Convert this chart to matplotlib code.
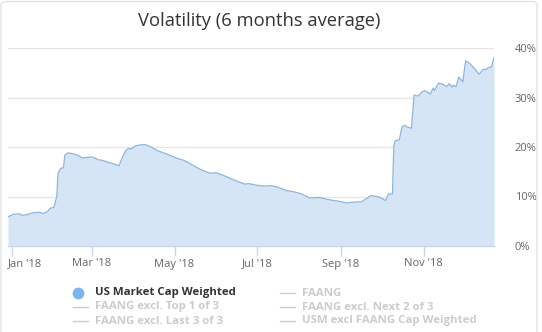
import matplotlib
matplotlib.use("Agg")
import matplotlib.pyplot as plt
import matplotlib.transforms as mtransforms
from matplotlib.patches import FancyBboxPatch
from matplotlib.lines import Line2D
import pandas as pd

title = "Volatility (6 months average)"
dates = ["2017-12-29","2018-01-02","2018-01-06","2018-01-09","2018-01-13","2018-01-16","2018-01-21","2018-01-24",
         "2018-01-27","2018-01-29","2018-02-01","2018-02-03","2018-02-04","2018-02-06","2018-02-08","2018-02-09",
         "2018-02-11","2018-02-14","2018-02-18","2018-02-22","2018-02-26","2018-03-01","2018-03-06","2018-03-09",
         "2018-03-13","2018-03-17","2018-03-21","2018-03-23","2018-03-26","2018-03-28","2018-03-30","2018-04-02",
         "2018-04-05","2018-04-09","2018-04-13","2018-04-19","2018-04-26","2018-05-02","2018-05-08","2018-05-14",
         "2018-05-20","2018-05-27","2018-06-01","2018-06-05","2018-06-10","2018-06-17","2018-06-22","2018-06-25",
         "2018-06-30","2018-07-06","2018-07-11","2018-07-16","2018-07-23","2018-07-29","2018-08-03","2018-08-09",
         "2018-08-16","2018-08-24","2018-08-31","2018-09-05","2018-09-12","2018-09-16","2018-09-20","2018-09-23",
         "2018-09-29","2018-10-04","2018-10-06","2018-10-09","2018-10-10","2018-10-11","2018-10-14","2018-10-16",
         "2018-10-18","2018-10-20","2018-10-23","2018-10-25","2018-10-28","2018-10-31","2018-11-02","2018-11-06",
         "2018-11-08","2018-11-09","2018-11-12","2018-11-15","2018-11-18","2018-11-20","2018-11-22","2018-11-23",
         "2018-11-25","2018-11-27","2018-11-30","2018-12-02","2018-12-05","2018-12-09","2018-12-12","2018-12-15",
         "2018-12-17","2018-12-19","2018-12-21","2018-12-23"]
volatility = [5.9,6.4,6.5,6.2,6.4,6.7,6.8,6.6,
              6.9,7.6,7.8,10.0,14.8,15.7,15.8,18.4,
              18.8,18.7,18.4,17.8,17.9,18.0,17.4,17.3,
              16.9,16.6,16.2,17.6,19.3,19.7,19.6,20.2,
              20.4,20.5,20.1,19.2,18.5,17.8,17.3,16.4,
              15.5,14.7,14.8,14.4,13.8,13.0,12.5,12.6,
              12.3,12.1,12.2,11.9,11.2,10.9,10.5,9.7,
              9.8,9.3,9.0,8.7,8.9,8.9,9.6,10.2,
              9.9,9.2,10.5,10.5,20.2,21.3,21.4,24.0,
              24.4,24.0,23.8,30.5,30.3,31.2,31.4,30.7,
              31.9,31.4,32.9,32.7,32.2,32.8,32.1,32.5,
              32.2,34.1,33.2,37.4,36.9,35.7,34.7,35.7,
              35.6,36.1,36.1,38.1]
tick_dates = ["2018-01-01","2018-03-01","2018-05-01","2018-07-01","2018-09-01","2018-11-01"]
tick_labels = ["Jan '18","Mar '18","May '18","Jul '18","Sep '18","Nov '18"]
y_ticks = [0, 10, 20, 30, 40]
y_labels = ["0%", "10%", "20%", "30%", "40%"]
legend_active = "US Market Cap Weighted"
legend_inactive = ["FAANG", "FAANG excl. Top 1 of 3", "FAANG excl. Next 2 of 3",
                   "FAANG excl. Last 3 of 3", "USM excl FAANG Cap Weighted"]

plt.rcParams['font.family'] = ['Open Sans', 'DejaVu Sans']

W, H = 542, 332
fig = plt.figure(figsize=(W/100, H/100), dpi=100)
fig.patch.set_facecolor("white")

# outer border
fig.patches.append(FancyBboxPatch((1/W, -0.05), 536/W, 1.05 - 1.5/H,
                                  boxstyle="round,pad=0,rounding_size=0.01",
                                  transform=fig.transFigure, facecolor="none",
                                  edgecolor="#e3e3e3", linewidth=1.0, zorder=0))

px = lambda x: x / W
py = lambda y: 1 - y / H

ax = fig.add_axes([px(8), py(246), (494-8)/W, (246-48)/H])
x = pd.to_datetime(dates)
ax.fill_between(x, volatility, 0, color="#d5e5f6", linewidth=0, zorder=2)
ax.plot(x, volatility, color="#8db4dc", linewidth=0.9, zorder=3)
ax.set_xlim(x[0], x[-1])
ax.set_ylim(0, 40)

for s in ["top", "left", "right"]:
    ax.spines[s].set_visible(False)
ax.spines["bottom"].set_color("#ccd6eb")
ax.spines["bottom"].set_linewidth(1)
ax.spines["bottom"].set_zorder(4)

ax.set_yticks(y_ticks)
ax.set_yticklabels(y_labels)
ax.yaxis.tick_right()
ax.tick_params(axis="y", length=0, pad=15, labelsize=8, labelcolor="#666666")
for lbl in ax.get_yticklabels():
    lbl.set_horizontalalignment("left")
ax.grid(axis="y", color="#e6e6e6", linewidth=1, zorder=1)
ax.set_axisbelow(True)

ax.set_xticks(pd.to_datetime(tick_dates))
ax.set_xticklabels(tick_labels)
ax.tick_params(axis="x", length=7, width=1, color="#ccd6eb", pad=2, labelsize=8, labelcolor="#666666")
first = ax.get_xticklabels()[0]
first.set_horizontalalignment("left")
first.set_transform(first.get_transform() + mtransforms.ScaledTranslation(-4/100, 0, fig.dpi_scale_trans))

fig.text(px(259), py(21), title, ha="center", va="center", fontsize=13.2, color="#333333")

# legend
fig.lines.append(Line2D([px(78)], [py(293)], transform=fig.transFigure, marker="o",
                        markersize=8.5, markerfacecolor="#7cb5ec", markeredgewidth=0, linestyle="none"))
fig.text(px(95), py(293), legend_active, ha="left", va="center", fontsize=8.2,
         fontweight="bold", color="#333333")
pos = [(280, 293), (73, 307), (280, 307), (73, 321), (280, 321)]
for (lx, ly), name in zip(pos, legend_inactive):
    fig.lines.append(Line2D([px(lx), px(lx+15)], [py(ly), py(ly)], transform=fig.transFigure,
                            color="#cccccc", linewidth=1))
    fig.text(px(lx+22), py(ly), name, ha="left", va="center", fontsize=8.2,
             fontweight="bold", color="#cccccc")

fig.savefig("out.png", dpi=100, facecolor="white")
